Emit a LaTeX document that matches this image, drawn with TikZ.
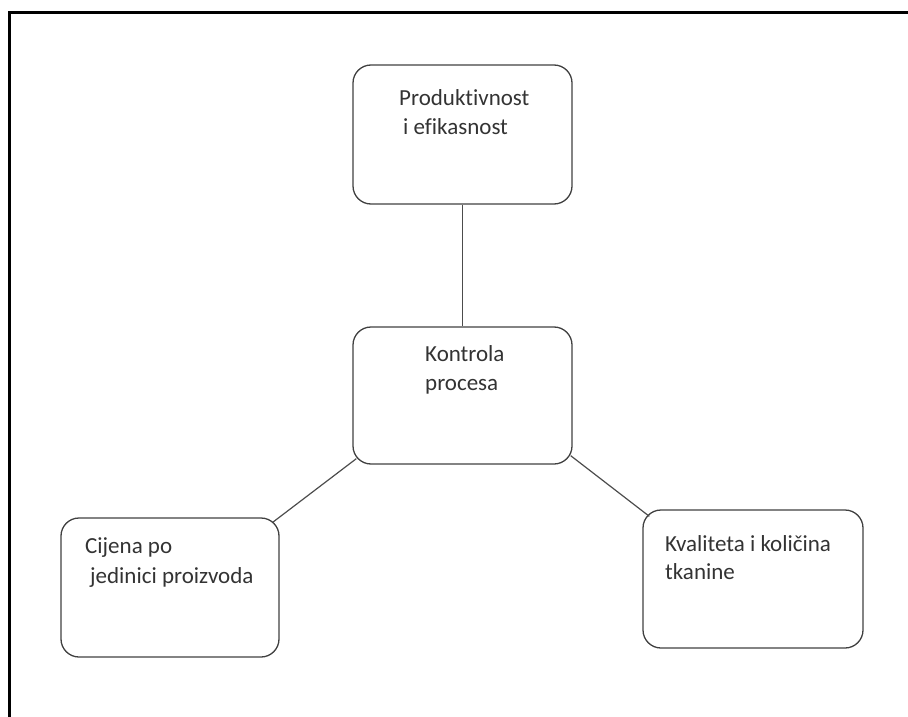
\documentclass[tikz,border=0pt]{standalone}
\usepackage{fontspec}
\setmainfont[Ligatures=NoCommon]{Carlito}
\usetikzlibrary{calc}
\begin{document}
\begin{tikzpicture}[x=1pt,y=-1pt,
  box/.style={draw=black!75, line width=1.3pt, rounded corners=18pt, inner sep=0pt},
  txt/.style={anchor=base west, inner sep=0pt, text=black!80, font=\fontsize{23}{29}\selectfont},
  conn/.style={draw=black!70, line width=1.2pt},
  frame/.style={draw=black, line width=2.2pt}]
\useasboundingbox (0,0) rectangle (908,717);
% frame
\coordinate (fb) at (9.5,717);
\coordinate (fc) at (9.5,12.5);
\coordinate (fr) at (908,12.5);
\draw[frame] (fb) -- (fc) -- (fr);
% boxes
\node[box, minimum width=219pt, minimum height=139pt] (top) at (462.5,134.5) {};
\node[box, minimum width=219pt, minimum height=137pt] (mid) at (462.5,395.5) {};
\node[box, minimum width=218pt, minimum height=139pt] (left) at (170,587.5) {};
\node[box, minimum width=220pt, minimum height=138pt] (right) at (753,579) {};
% texts
\node[txt] (t1) at (399,105) {Produktivnost};
\node[txt] (t2) at (403,134) {i efikasnost};
\node[txt] (m1) at (425,361) {Kontrola};
\node[txt] (m2) at (425,390) {procesa};
\node[txt] (l1) at (85,553) {Cijena po};
\node[txt] (l2) at (90,583) {jedinici proizvoda};
\node[txt] (r1) at (665,551) {Kvaliteta i količina};
\node[txt] (r2) at (665,579) {tkanine};
% connectors
\draw[conn] (top.south) -- (mid.north);
\draw[conn] ($(mid.south west)+(4,-6)$) -- ($(left.north east)+(-7,5)$);
\draw[conn] ($(mid.south east)+(-2,-9)$) -- ($(right.north west)+(7,7)$);
\end{tikzpicture}
\end{document}
